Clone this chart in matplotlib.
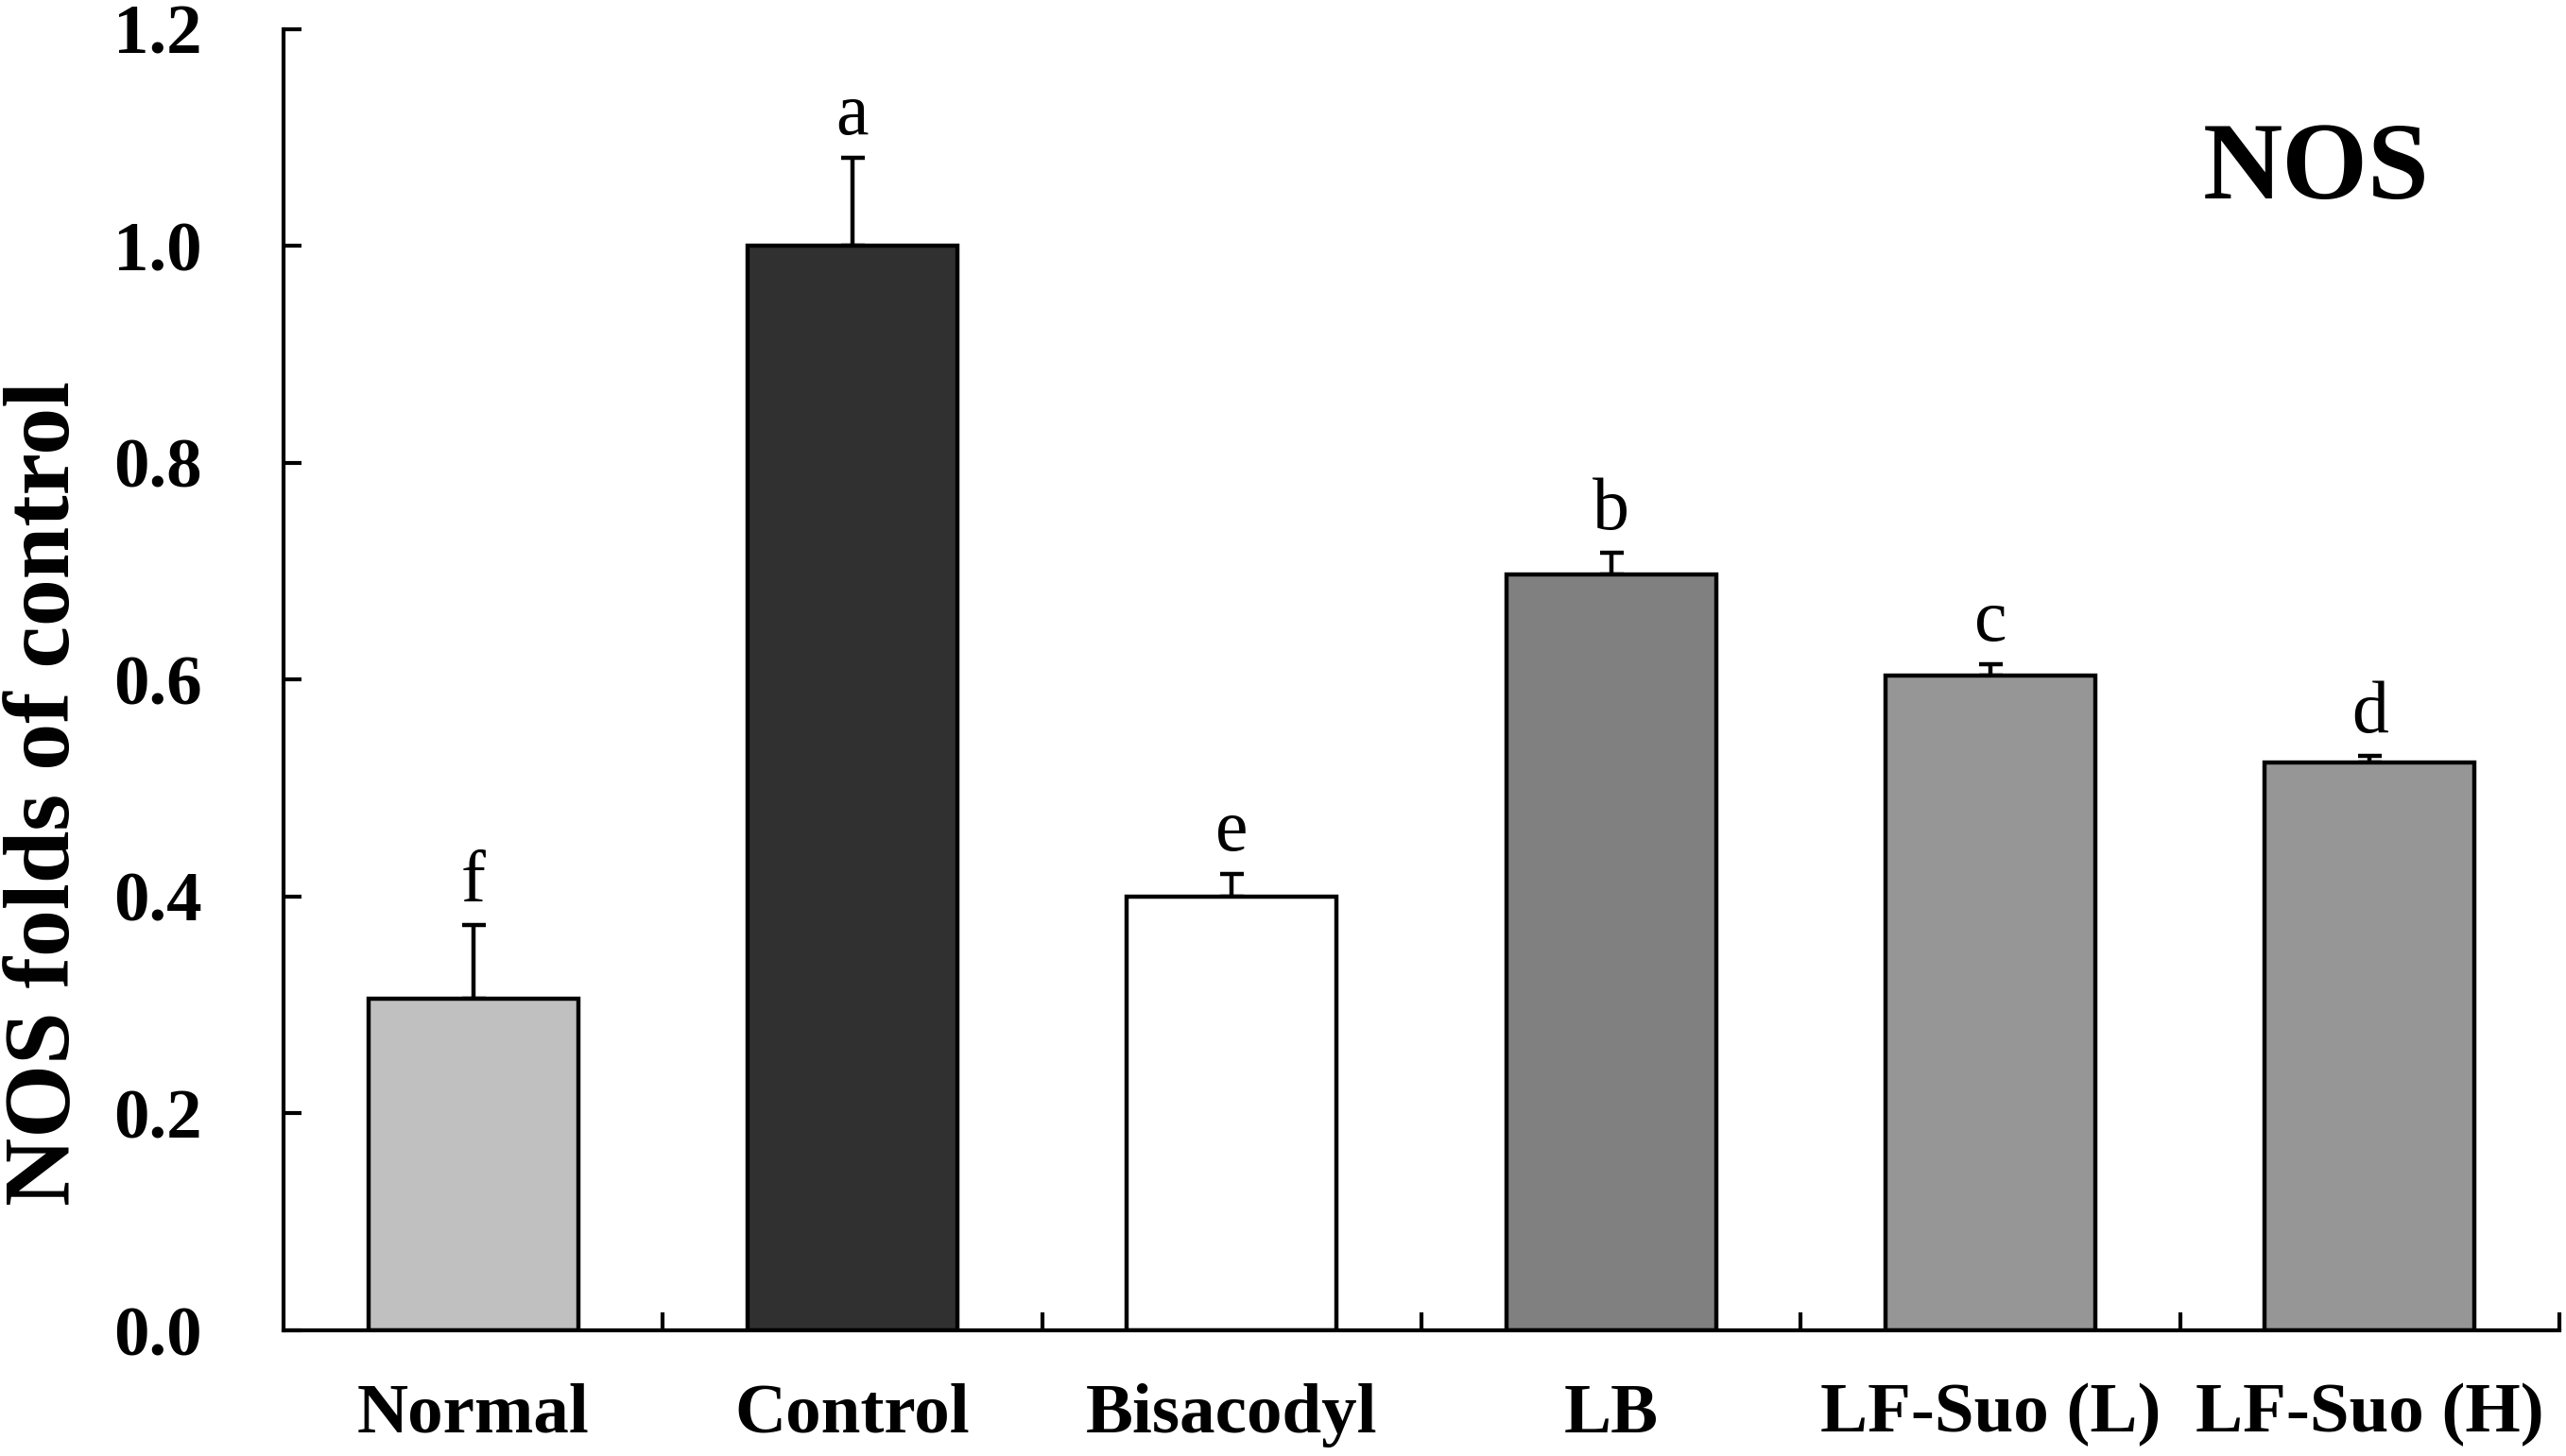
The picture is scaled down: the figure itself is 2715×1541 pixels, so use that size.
import numpy as np
import matplotlib
matplotlib.use('Agg')
from matplotlib import pyplot as plt

# data
groups = ['Normal', 'Control', 'Bisacodyl', 'LB', 'LF-Suo (L)', 'LF-Suo (H)']
means = [0.306, 1.000, 0.400, 0.697, 0.604, 0.524]
errors = [0.068, 0.081, 0.021, 0.020, 0.010, 0.006]
letters = ['f', 'a', 'e', 'b', 'c', 'd']
colors = ['#c0c0c0', '#303030', '#ffffff', '#808080', '#969696', '#969696']
y_ticks = [0.0, 0.2, 0.4, 0.6, 0.8, 1.0, 1.2]

plt.rcParams['font.family'] = ['Liberation Serif', 'DejaVu Serif']

fig = plt.figure(figsize=(27.15, 15.41), dpi=100)
ax = fig.add_axes([0.1105, 0.0863, 0.8869, 0.8937])

x = np.arange(len(groups))
ax.bar(x, means, width=0.553, color=colors, edgecolor='black', linewidth=3.2, zorder=2)
ax.errorbar(x, means, yerr=[np.zeros(len(errors)), errors], fmt='none',
            ecolor='black', elinewidth=3.2, capsize=9, capthick=3.2, zorder=1)

# significance letters above the error bars
for xi, m, e, lab in zip(x, means, errors, letters):
    ax.annotate(lab, (xi, m + e), xytext=(0, 18), textcoords='offset points',
                ha='center', va='baseline', fontsize=56)

ax.set_xlim(-0.5, 5.5)
ax.set_ylim(0, 1.2)
ax.set_yticks(y_ticks)
ax.set_yticklabels(['%.1f' % v for v in y_ticks], fontsize=54, fontweight='bold')
ax.set_xticks(x)
ax.set_xticklabels(groups, fontsize=54, fontweight='bold')
ax.set_xticks(np.arange(0.5, 6.0, 1.0), minor=True)
ax.tick_params(axis='x', which='major', length=0, pad=40)
ax.tick_params(axis='x', which='minor', direction='in', length=14, width=3)
ax.tick_params(axis='y', direction='in', length=14, width=3, pad=62)

for side in ['top', 'right']:
    ax.spines[side].set_visible(False)
for side in ['left', 'bottom']:
    ax.spines[side].set_linewidth(3)

ax.set_ylabel('NOS folds of control', fontsize=72, fontweight='bold', va='center')
ax.yaxis.set_label_coords(-0.104, 0.4125)

ax.text(0.893, 0.89, 'NOS', transform=ax.transAxes, ha='center', va='center',
        fontsize=84, fontweight='bold')

fig.savefig('out.png', dpi=100)
